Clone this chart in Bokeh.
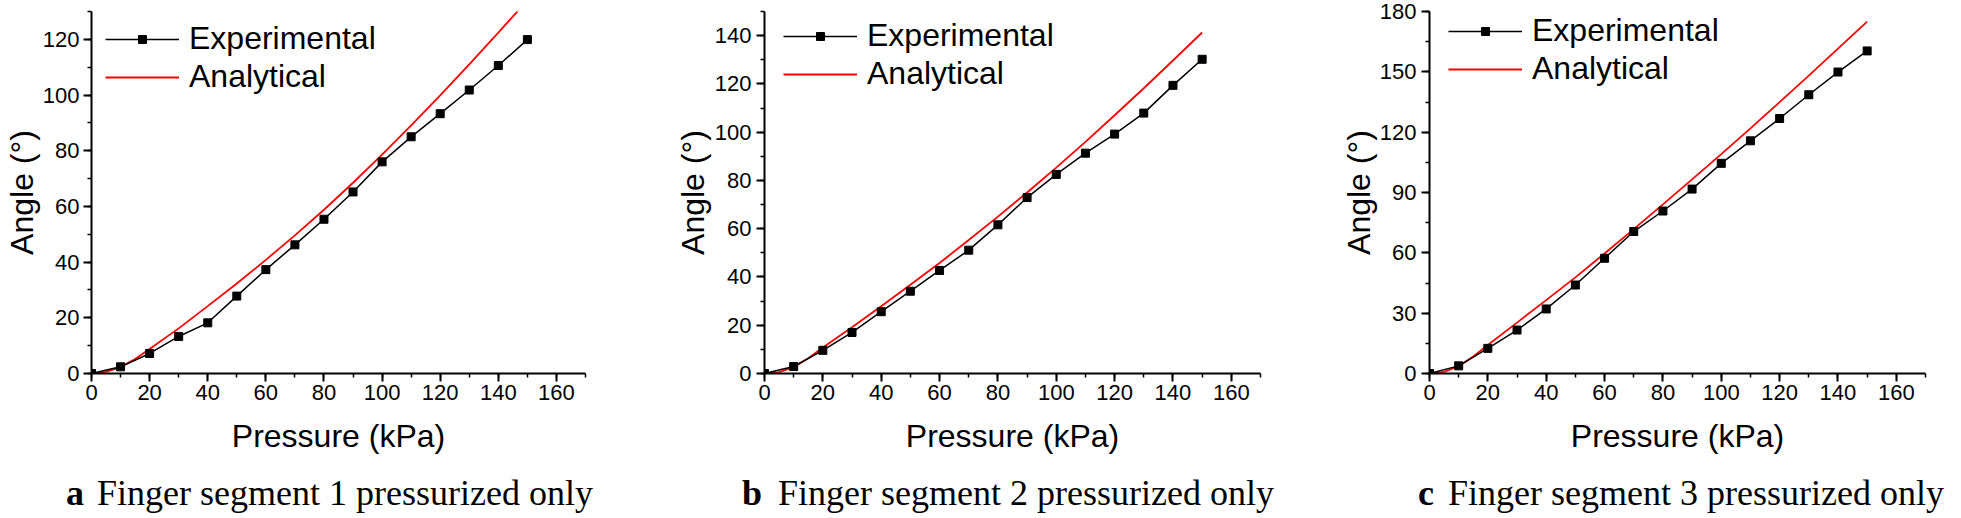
from bokeh.plotting import figure
from bokeh.layouts import row, column
from bokeh.models import Range1d, SingleIntervalTicker, Legend, LegendItem, Div
from bokeh.embed import file_html
from bokeh.resources import INLINE

# ---------------- data ----------------
pressure = [0, 10, 20, 30, 40, 50, 60, 70, 80, 90, 100, 110, 120, 130, 140, 150]
pressure_fine = [0, 5, 10, 15, 20, 30, 40, 50, 60, 70, 80, 90, 100, 110, 120, 130, 140, 150]

exp_seg1 = [0, 2.4, 7.2, 13.3, 18.2, 27.8, 37.3, 46.2, 55.4, 65.2, 76.0, 85.0, 93.3, 101.8, 110.6, 119.9]
ana_seg1 = [0, 0.6, 2.3, 5.2, 8.8, 16.2, 24.2, 32.3, 40.8, 49.6, 58.8, 68.5, 78.6, 89.1, 99.9, 111.0, 122.4, 134.0]

exp_seg2 = [0, 2.9, 9.6, 17.0, 25.6, 34.1, 42.7, 51.1, 61.6, 72.9, 82.5, 91.3, 99.2, 107.9, 119.4, 130.2]
ana_seg2 = [0, 0.6, 2.6, 6.3, 10.8, 19.2, 27.9, 36.8, 45.8, 55.3, 65.0, 75.0, 85.3, 96.0, 107.0, 118.2, 129.7, 141.3]

exp_seg3 = [0, 3.8, 12.5, 21.6, 32.1, 44.0, 57.3, 70.6, 80.8, 91.7, 104.5, 115.7, 126.8, 138.6, 149.9, 160.4]
ana_seg3 = [0, 0.8, 3.6, 8.5, 14.2, 25.3, 36.5, 47.8, 59.7, 71.8, 84.1, 96.5, 109.1, 121.9, 134.9, 148.1, 161.5, 175.0]

x_max = 170
x_step = 20
y_maxes = [130, 150, 180]
y_steps = [20, 20, 30]
letters = ["a", "b", "c"]
captions = ["Finger segment 1 pressurized only",
            "Finger segment 2 pressurized only",
            "Finger segment 3 pressurized only"]
series_names = ["Experimental", "Analytical"]
x_title = "Pressure (kPa)"
y_title = "Angle (°)"

# ---------------- layout ----------------
SANS = "Liberation Sans"
TOP = 11
FRAME_H = 362
BOTTOM = 97
H = TOP + FRAME_H + BOTTOM
CAP_H = 48

panel_cfg = [
    dict(L=91, FW=494, R=30, leg=(14, 278), ylab_standoff=0, tick_standoff=4, cap_x=66, cap_w=31),
    dict(L=149, FW=496, R=30, leg=(19, 281), ylab_standoff=1, tick_standoff=5, cap_x=127, cap_w=36),
    dict(L=139, FW=496, R=36, leg=(19, 286), ylab_standoff=0, tick_standoff=5, cap_x=128, cap_w=30),
]

exps = [exp_seg1, exp_seg2, exp_seg3]
anas = [ana_seg1, ana_seg2, ana_seg3]

cols = []
for i in range(3):
    cfg = panel_cfg[i]
    W = cfg["L"] + cfg["FW"] + cfg["R"]
    p = figure(width=W, height=H, output_backend="svg", toolbar_location=None,
               x_range=Range1d(0, x_max), y_range=Range1d(0, y_maxes[i]),
               min_border_left=cfg["L"], min_border_right=cfg["R"],
               min_border_top=TOP, min_border_bottom=BOTTOM)
    p.outline_line_color = None
    p.xgrid.visible = False
    p.ygrid.visible = False
    p.background_fill_color = "white"
    p.border_fill_color = "white"

    p.xaxis.ticker = SingleIntervalTicker(interval=x_step, num_minor_ticks=2)
    p.yaxis.ticker = SingleIntervalTicker(interval=y_steps[i], num_minor_ticks=2)
    for ax in (p.xaxis[0], p.yaxis[0]):
        ax.axis_line_width = 2
        ax.axis_line_color = "black"
        ax.major_tick_line_width = 2
        ax.minor_tick_line_width = 1.5
        ax.major_tick_line_color = "black"
        ax.minor_tick_line_color = "black"
        ax.major_tick_out = 8
        ax.major_tick_in = 0
        ax.minor_tick_out = 4
        ax.minor_tick_in = 0
        ax.major_label_text_font = SANS
        ax.major_label_text_font_size = "22px"
        ax.major_label_text_color = "black"
        ax.axis_label_text_font = SANS
        ax.axis_label_text_font_style = "normal"
        ax.axis_label_text_color = "black"
    p.xaxis.major_label_standoff = 3
    p.yaxis.major_label_standoff = cfg["tick_standoff"]
    p.xaxis.axis_label = x_title
    p.xaxis.axis_label_text_font_size = "32px"
    p.xaxis.axis_label_standoff = 15
    p.yaxis.axis_label = y_title
    p.yaxis.axis_label_text_font_size = "32px"
    p.yaxis.axis_label_standoff = cfg["ylab_standoff"]

    red = p.line(pressure_fine, anas[i], line_color="#ff0000", line_width=1.8)
    bl = p.line(pressure, exps[i], line_color="black", line_width=1.5)
    sq = p.scatter(pressure, exps[i], marker="square", size=8, fill_color="black", line_color="black")

    legend = Legend(items=[LegendItem(label=series_names[0], renderers=[bl, sq]),
                           LegendItem(label=series_names[1], renderers=[red])],
                    location=cfg["leg"], glyph_width=74, glyph_height=20,
                    label_height=36, spacing=1, padding=0, margin=0,
                    label_standoff=10, label_text_font=SANS, label_text_font_size="32px",
                    label_text_color="black",
                    border_line_alpha=0, background_fill_alpha=0)
    p.add_layout(legend)

    cap_html = (
        '<div style="font-family:\'Liberation Serif\',\'Times New Roman\',serif;'
        'font-size:36px;line-height:40px;white-space:nowrap;color:#000;'
        'padding-left:%dpx;padding-top:3px;margin:0;">'
        '<span style="display:inline-block;width:%dpx;font-weight:bold;">%s</span>%s</div>'
        % (cfg["cap_x"], cfg["cap_w"], letters[i], captions[i])
    )
    cap = Div(text=cap_html, width=W, height=CAP_H, margin=(0, 0, 0, 0),
              styles={"overflow": "hidden"})
    cols.append(column(p, cap, spacing=0))

layout = row(*cols, spacing=0)
open("out.html", "w").write(file_html(layout, INLINE))
